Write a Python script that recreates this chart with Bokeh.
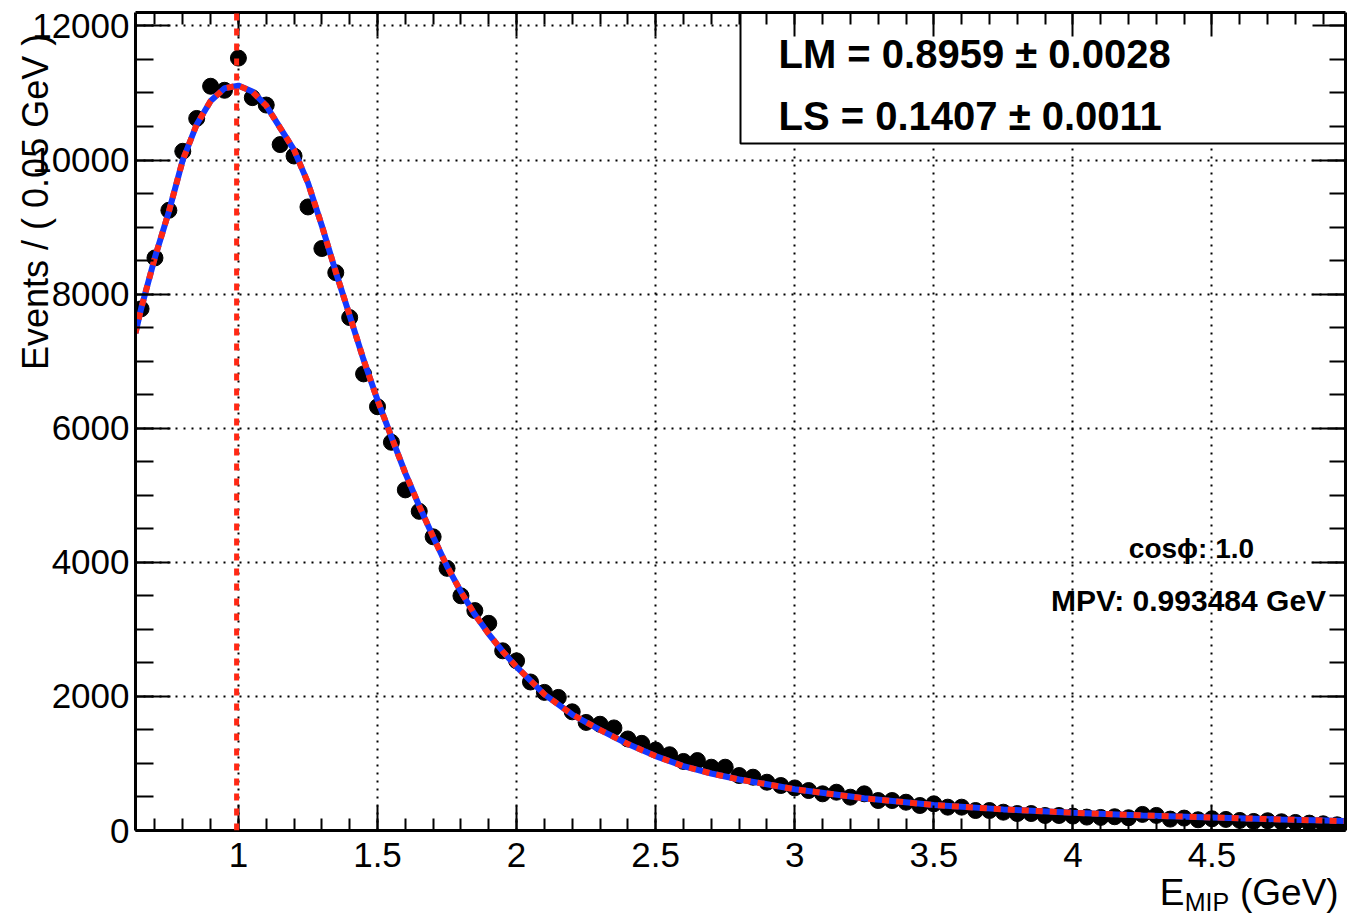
from bokeh.plotting import figure
from bokeh.models import (LinearAxis, SingleIntervalTicker, FixedTicker, Range1d, Label,
                          BoxAnnotation, Arrow, ColumnDataSource, Grid)
from bokeh.embed import file_html
from bokeh.resources import INLINE

# ---------------- data ----------------
bin_centers = [0.65, 0.70, 0.75, 0.80, 0.85, 0.90, 0.95, 1.00, 1.05, 1.10,
               1.15, 1.20, 1.25, 1.30, 1.35, 1.40, 1.45, 1.50, 1.55, 1.60,
               1.65, 1.70, 1.75, 1.80, 1.85, 1.90, 1.95, 2.00, 2.05, 2.10,
               2.15, 2.20, 2.25, 2.30, 2.35, 2.40, 2.45, 2.50, 2.55, 2.60,
               2.65, 2.70, 2.75, 2.80, 2.85, 2.90, 2.95, 3.00, 3.05, 3.10,
               3.15, 3.20, 3.25, 3.30, 3.35, 3.40, 3.45, 3.50, 3.55, 3.60,
               3.65, 3.70, 3.75, 3.80, 3.85, 3.90, 3.95, 4.00, 4.05, 4.10,
               4.15, 4.20, 4.25, 4.30, 4.35, 4.40, 4.45, 4.50, 4.55, 4.60,
               4.65, 4.70, 4.75, 4.80, 4.85, 4.90, 4.95]
events = [7780, 8540, 9250, 10130, 10620, 11100, 11040, 11520, 10930, 10820,
          10230, 10060, 9300, 8680, 8320, 7650, 6810, 6320, 5790, 5080,
          4760, 4380, 3910, 3500, 3280, 3090, 2680, 2530, 2215, 2060,
          1985, 1770, 1612, 1585, 1530, 1365, 1300, 1200, 1130, 1030,
          1043, 944, 944, 820, 795, 720, 671, 635, 596, 547,
          571, 497, 547, 447, 447, 422, 373, 398, 348, 348,
          298, 298, 273, 253, 253, 224, 224, 215, 200, 195,
          205, 190, 240, 225, 170, 185, 160, 175, 165, 150,
          135, 145, 130, 120, 110, 100, 85]

fit_x = [0.63, 0.65, 0.70, 0.75, 0.80, 0.85, 0.90, 0.95, 1.00, 1.05, 1.10, 1.15,
         1.20, 1.25, 1.30, 1.35, 1.40, 1.45, 1.50, 1.55, 1.60, 1.65, 1.70, 1.75,
         1.80, 1.85, 1.90, 1.95, 2.00, 2.10, 2.20, 2.30, 2.40, 2.50, 2.60, 2.70,
         2.80, 2.90, 3.00, 3.25, 3.50, 3.75, 4.00, 4.25, 4.50, 4.75, 4.98]
fit_y = [7420, 7780, 8550, 9230, 10000, 10530, 10880, 11070, 11110, 11020, 10810, 10480,
         10150, 9660, 9020, 8330, 7680, 7020, 6420, 5870, 5330, 4840, 4380, 3940,
         3560, 3220, 2930, 2670, 2440, 2030, 1730, 1500, 1290, 1110, 960, 850,
         760, 690, 615, 480, 380, 315, 265, 225, 195, 165, 140]

mpv = [0.993484]

x_tick_values = [1.0, 1.5, 2.0, 2.5, 3.0, 3.5, 4.0, 4.5]
x_tick_labels = ["1", "1.5", "2", "2.5", "3", "3.5", "4", "4.5"]

stats_lines = ["GS =  0.5203 \u00b1 0.0043",
               "LM =  0.8959 \u00b1 0.0028",
               "LS =  0.1407 \u00b1 0.0011"]
info_lines = ["cos\u03d5: 1.0", "MPV: 0.993484 GeV"]
y_title = "Events / ( 0.05 GeV )"
x_title_main = "E\u2003\u2002(GeV)"
x_title_sub = "MIP"

# ---------------- layout helpers (picture pixels -> data) ----------------
W, H = 1367, 916
X0, X1 = 0.63, 4.98
Y0, Y1 = 0, 12200
FL, FR, FT, FB = 135, 1345, 12, 830


def dx(px):
    return X0 + (px - FL) * (X1 - X0) / (FR - FL)


def dy(py):
    return Y0 + (FB - py) * (Y1 - Y0) / (FB - FT)


FONT = "Liberation Sans"
EM = "\u2003"      # em space, used to push centred axis titles toward the axis end
THIN = "\u2009"
EN = "\u2002"

p = figure(width=W, height=H, output_backend="svg", toolbar_location=None,
           x_range=Range1d(X0, X1), y_range=Range1d(Y0, Y1),
           x_axis_type=None, y_axis_type=None,
           min_border_left=FL, min_border_right=W - FR,
           min_border_top=FT, min_border_bottom=H - FB)
p.outline_line_color = None
p.background_fill_color = "white"
p.border_fill_color = "white"

xt = SingleIntervalTicker(interval=0.5, num_minor_ticks=5)
yt = SingleIntervalTicker(interval=2000, num_minor_ticks=4)


def style_axis(ax, tin, mtin, show_labels):
    ax.axis_line_color = "black"
    ax.axis_line_width = 3
    ax.major_tick_line_color = "black"
    ax.major_tick_line_width = 2
    ax.minor_tick_line_color = "black"
    ax.minor_tick_line_width = 2
    ax.major_tick_in = tin
    ax.major_tick_out = 0
    ax.minor_tick_in = mtin
    ax.minor_tick_out = 0
    if show_labels:
        ax.major_label_text_font = FONT
        ax.major_label_text_font_size = "35px"
        ax.major_label_text_color = "black"
    else:
        ax.major_label_text_color = None
        ax.major_label_standoff = 0


def bare_axis(**kw):
    return LinearAxis(axis_line_color=None, major_tick_line_color=None,
                      minor_tick_line_color=None, major_tick_in=0, major_tick_out=0,
                      minor_tick_in=0, minor_tick_out=0,
                      axis_label_text_font=FONT, axis_label_text_font_style="normal",
                      axis_label_text_color="black",
                      major_label_text_font=FONT, major_label_text_color="black", **kw)


bottom = LinearAxis(ticker=xt,
                    major_label_overrides={v: l for v, l in zip(x_tick_values, x_tick_labels)})
style_axis(bottom, 25, 12, True)
bottom.major_label_standoff = 12
p.add_layout(bottom, "below")

# x title: subscript "MIP" as a tick label, "E ... (GeV)" as the axis label
sub_pos = dx(1206.5)
p.add_layout(bare_axis(ticker=FixedTicker(ticks=[sub_pos]),
                       major_label_overrides={sub_pos: x_title_sub},
                       major_label_text_font_size="25px", major_label_standoff=18,
                       axis_label=EM * 27 + EN + x_title_main,
                       axis_label_text_font_size="37px", axis_label_standoff=-47), "below")

top = LinearAxis(ticker=xt)
style_axis(top, 24, 12, False)
p.add_layout(top, "above")

left = LinearAxis(ticker=yt)
style_axis(left, 35, 18, True)
left.major_label_standoff = 6
p.add_layout(left, "left")
p.add_layout(bare_axis(ticker=FixedTicker(ticks=[]), major_label_standoff=0,
                       axis_label=EM * 12 + THIN + y_title,
                       axis_label_text_font_size="36px", axis_label_standoff=-26), "left")

right = LinearAxis(ticker=yt)
style_axis(right, 33, 16, False)
p.add_layout(right, "right")

p.add_layout(Grid(dimension=0, ticker=xt, grid_line_color="black",
                  grid_line_dash="2 6", grid_line_width=2))
p.add_layout(Grid(dimension=1, ticker=yt, grid_line_color="black",
                  grid_line_dash="2 6", grid_line_width=2))

# stats box
p.add_layout(BoxAnnotation(left=dx(740), right=dx(1420), bottom=dy(143), top=dy(-40),
                           fill_color="white", fill_alpha=1.0,
                           line_color="black", line_alpha=1.0, line_width=2, level="glyph"))

# data
src = ColumnDataSource(dict(x=bin_centers, y=events))
p.scatter("x", "y", source=src, size=16, fill_color="black", line_color="black")

fsrc = ColumnDataSource(dict(x=fit_x, y=fit_y))
p.line("x", "y", source=fsrc, line_color="#1438ff", line_width=6)
p.line("x", "y", source=fsrc, line_color="#ff2814", line_width=6, line_dash="7 7")

# MPV line
p.add_layout(Arrow(end=None, x_start=mpv[0], x_end=mpv[0], y_start=Y0, y_end=dy(0),
                   line_color="#ff2814", line_width=5, line_dash="7 8"))


def add_text(px, py, text, size, bold=False, align="left"):
    p.add_layout(Label(x=dx(px), y=dy(py), text=text, text_font=FONT,
                       text_font_style="bold" if bold else "normal",
                       text_font_size=size, text_align=align, text_baseline="middle",
                       text_color="black"))


# stats text (y = cap centre)
for i, t in enumerate(stats_lines):
    add_text(778, -9 + 62 * i, t, "40px", bold=True)

# info text
add_text(1191, 548, info_lines[0], "28px", bold=True, align="center")
add_text(1188, 600, info_lines[1], "30px", bold=True, align="center")

open("out.html", "w").write(file_html(p, INLINE))
